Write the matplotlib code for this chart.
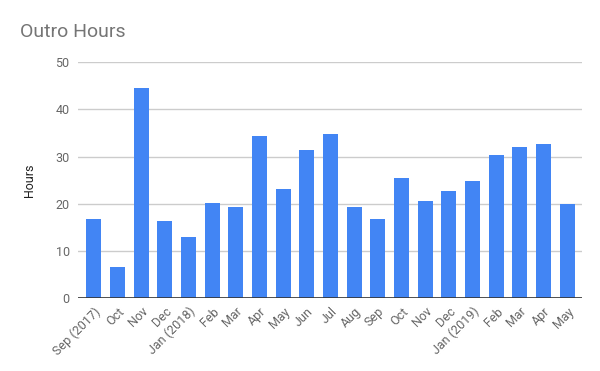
import matplotlib
matplotlib.use("Agg")
import matplotlib.pyplot as plt
import numpy as np

months = ['Sep (2017)', 'Oct', 'Nov', 'Dec', 'Jan (2018)', 'Feb', 'Mar', 'Apr', 'May',
          'Jun', 'Jul', 'Aug', 'Sep', 'Oct', 'Nov', 'Dec', 'Jan (2019)', 'Feb', 'Mar',
          'Apr', 'May']
hours = [16.7, 6.6, 44.5, 16.3, 12.9, 20.1, 19.3, 34.3, 23.1, 31.4, 34.7,
         19.3, 16.7, 25.4, 20.6, 22.7, 24.8, 30.3, 32.0, 32.6, 19.9]

plt.rcParams['font.family'] = ['Roboto', 'DejaVu Sans']

fig = plt.figure(figsize=(6, 3.71), dpi=100)
ax = fig.add_axes([0.13, 0.197, 0.84, 0.635])

x = np.arange(len(months))
ax.bar(x, hours, width=0.63, color='#4285f4', zorder=3)

ax.set_ylim(0, 50)
ax.set_xlim(-0.67, len(months) - 0.37)
ax.set_yticks([0, 10, 20, 30, 40, 50])
ax.yaxis.grid(True, color='#cccccc', linewidth=1, zorder=0)
ax.axhline(0, color='#333333', linewidth=1.2, zorder=4)

for s in ax.spines.values():
    s.set_visible(False)
ax.tick_params(axis='both', length=0, colors='#666666', labelsize=9)
ax.tick_params(axis='y', pad=6)
ax.tick_params(axis='x', pad=5)
ax.set_xticks(x)
ax.set_xticklabels(months, rotation=45, ha='right', rotation_mode='anchor')

ax.set_ylabel('Hours', fontsize=9, color='#222222', labelpad=14)

fig.text(0.033, 0.915, 'Outro Hours', fontsize=14, color='#757575', va='center', ha='left')

fig.savefig('out.png', dpi=100)
